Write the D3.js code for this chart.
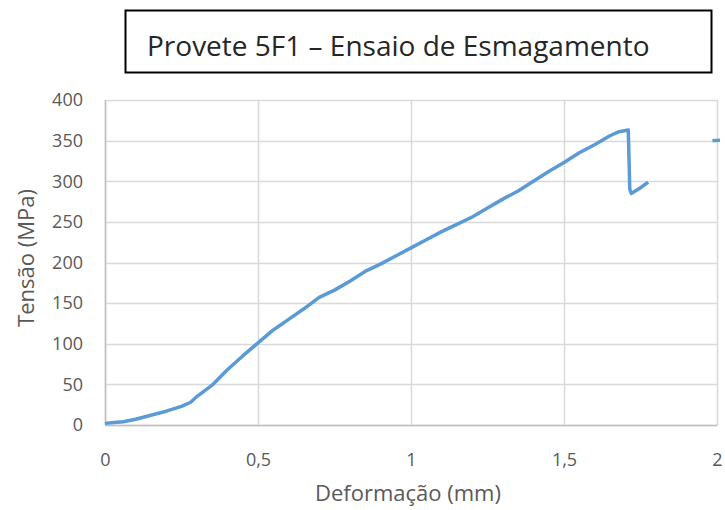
<!DOCTYPE html>
<html>
<head>
<meta charset="utf-8">
<script src="https://cdn.jsdelivr.net/npm/d3@7"></script>
<style>
  body { margin: 0; background: #fff; }
  svg { display: block; }
</style>
</head>
<body>
<div id="chart"></div>
<script>
// dados
const deformacao = [0, 0.03, 0.06, 0.1, 0.15, 0.2, 0.25, 0.28, 0.3, 0.35, 0.4, 0.45, 0.5, 0.55, 0.6, 0.65,
  0.7, 0.75, 0.8, 0.85, 0.9, 0.95, 1.0, 1.05, 1.1, 1.15, 1.2, 1.25, 1.3, 1.35, 1.4, 1.45, 1.5,
  1.55, 1.6, 1.65, 1.68, 1.71, 1.715, 1.72, 1.75, 1.775, null, 1.985, 2.05];
const tensao = [2, 3, 4, 7, 12, 17, 23, 28, 35, 49, 68, 85, 101, 117, 130, 143,
  157, 166, 177, 189, 198, 208, 218, 228, 238, 247, 256, 267, 278, 288, 300, 312, 323,
  335, 345, 356, 361, 363, 290, 285, 292, 299, null, 350, 351];
const xTicks = [0, 0.5, 1, 1.5, 2];
const yTicks = [0, 50, 100, 150, 200, 250, 300, 350, 400];
const titulo = "Provete 5F1 – Ensaio de Esmagamento";

const width = 725, height = 510;
const margin = { top: 100, right: 8, bottom: 85, left: 105 };
const font = "'Open Sans', 'DejaVu Sans', sans-serif";

const svg = d3.select("#chart").append("svg")
    .attr("width", width)
    .attr("height", height);

// caixa do título
svg.append("rect")
    .attr("x", 125.5).attr("y", 10.5)
    .attr("width", 586).attr("height", 62)
    .attr("fill", "none")
    .attr("stroke", "#000")
    .attr("stroke-width", 2);
svg.append("text")
    .attr("x", 147).attr("y", 56)
    .attr("font-family", font)
    .attr("font-size", 28)
    .attr("fill", "#262626")
    .text(titulo);

const x = d3.scaleLinear().domain([0, 2]).range([margin.left, width - margin.right]);
const y = d3.scaleLinear().domain([0, 400]).range([height - margin.bottom, margin.top]);

// grelha
svg.append("g")
    .selectAll("line")
    .data(yTicks)
    .join("line")
    .attr("x1", x(0)).attr("x2", x(2))
    .attr("y1", d => Math.round(y(d)) + 0.5).attr("y2", d => Math.round(y(d)) + 0.5)
    .attr("stroke", "#d9d9d9").attr("stroke-width", 1.5);
svg.append("g")
    .selectAll("line")
    .data(xTicks)
    .join("line")
    .attr("x1", d => Math.round(x(d)) + 0.5).attr("x2", d => Math.round(x(d)) + 0.5)
    .attr("y1", y(0)).attr("y2", y(400))
    .attr("stroke", "#d9d9d9").attr("stroke-width", 1.5);

// eixos
const fmt = d => String(d).replace(".", ",");
const xAxis = svg.append("g")
    .attr("transform", `translate(0,${y(0)})`)
    .call(d3.axisBottom(x).tickValues(xTicks).tickFormat(fmt).tickSize(0).tickPadding(28));
const yAxis = svg.append("g")
    .attr("transform", `translate(${x(0)},0)`)
    .call(d3.axisLeft(y).tickValues(yTicks).tickSize(0).tickPadding(22));
[xAxis, yAxis].forEach(a => {
    a.select(".domain").attr("stroke", "#bfbfbf").attr("stroke-width", 1.5);
    a.selectAll("text")
        .attr("font-family", font)
        .attr("font-size", 18)
        .attr("fill", "#595959");
});

// curva
svg.append("clipPath").attr("id", "clip")
    .append("rect")
    .attr("x", x(0) - 4).attr("y", y(400))
    .attr("width", x(2) - x(0) + 7).attr("height", y(0) - y(400) + 4);

const pts = deformacao.map((d, i) => [d, tensao[i]]);
const line = d3.line()
    .defined(d => d[0] != null)
    .x(d => x(d[0]))
    .y(d => y(d[1]));
svg.append("path")
    .datum(pts)
    .attr("clip-path", "url(#clip)")
    .attr("fill", "none")
    .attr("stroke", "#5b9bd5")
    .attr("stroke-width", 3.5)
    .attr("stroke-linejoin", "round")
    .attr("d", line);

// títulos dos eixos
svg.append("text")
    .attr("x", 408).attr("y", 501)
    .attr("text-anchor", "middle")
    .attr("font-family", font)
    .attr("font-size", 22)
    .attr("fill", "#595959")
    .text("Deformação (mm)");
svg.append("text")
    .attr("transform", `translate(34,258) rotate(-90)`)
    .attr("text-anchor", "middle")
    .attr("font-family", font)
    .attr("font-size", 22)
    .attr("fill", "#595959")
    .text("Tensão (MPa)");
</script>
</body>
</html>
